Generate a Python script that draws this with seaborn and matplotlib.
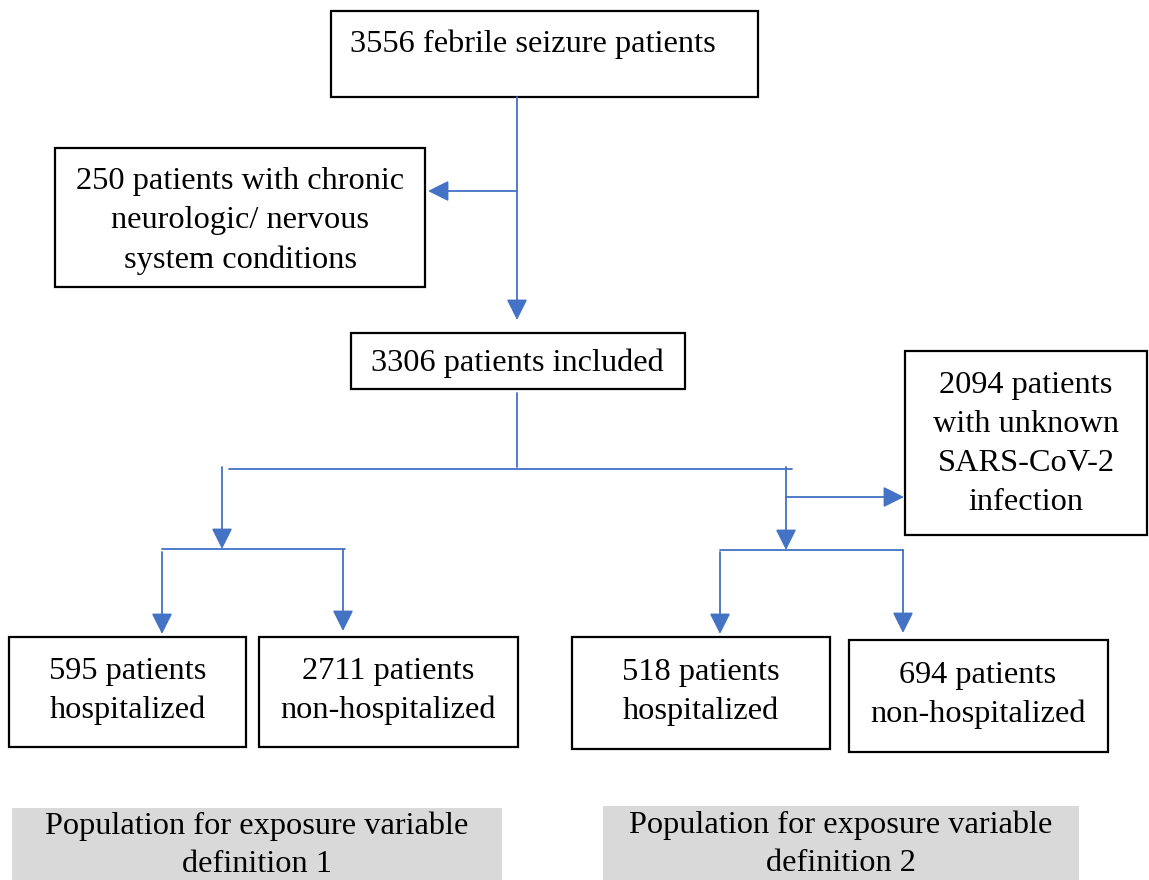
import matplotlib
matplotlib.use("Agg")
import matplotlib.pyplot as plt
import seaborn as sns
from matplotlib.patches import Rectangle

sns.set_theme(style="white")
plt.rcParams['font.family'] = ['Liberation Serif', 'DejaVu Serif']

# counts in the flow
total = 3556
excluded = 250
included = 3306
unknown = 2094
def1_hosp, def1_nonhosp = 595, 2711
def2_hosp, def2_nonhosp = 518, 694

labels = [
    f"{total} febrile seizure patients",
    f"{excluded} patients with chronic\nneurologic/ nervous\nsystem conditions",
    f"{included} patients included",
    f"{unknown} patients\nwith unknown\nSARS-CoV-2\ninfection",
    f"{def1_hosp} patients\nhospitalized",
    f"{def1_nonhosp} patients\nnon-hospitalized",
    f"{def2_hosp} patients\nhospitalized",
    f"{def2_nonhosp} patients\nnon-hospitalized",
]
footer_labels = [
    "Population for exposure variable\ndefinition 1",
    "Population for exposure variable\ndefinition 2",
]

# layout in pixels (x0, y0, x1, y1) and text anchor
boxes = [
    (331, 11, 758, 97), (55, 148, 425, 287), (351, 333, 685, 389),
    (905, 351, 1147, 535), (9, 637, 246, 747), (259, 637, 518, 747),
    (572, 637, 830, 749), (849, 640, 1108, 752),
]
text_pos = [
    (533, 44), (240, 221), (517, 363), (1026, 444),
    (128, 691), (388, 691), (701, 692), (978, 695),
]
footer_boxes = [(12, 808, 502, 885), (603, 806, 1079, 885)]
footer_pos = [(257, 845), (841, 844)]

blue = "#4472C4"
W, H = 1149, 880

fig = plt.figure(figsize=(W / 100, H / 100), dpi=100)
ax = fig.add_axes([0, 0, 1, 1])
ax.set_xlim(0, W)
ax.set_ylim(H, 0)
ax.axis("off")

for (x0, y0, x1, y1), (tx, ty), lab in zip(boxes, text_pos, labels):
    ax.add_patch(Rectangle((x0, y0), x1 - x0, y1 - y0, fill=False,
                           edgecolor="black", lw=1.6))
    ax.text(tx, ty, lab, ha="center", va="center", fontsize=23.3,
            linespacing=1.45, color="black")

for (x0, y0, x1, y1), (tx, ty), lab in zip(footer_boxes, footer_pos, footer_labels):
    ax.add_patch(Rectangle((x0, y0), x1 - x0, y1 - y0, facecolor="#D9D9D9",
                           edgecolor="none"))
    ax.text(tx, ty, lab, ha="center", va="center", fontsize=23.3,
            linespacing=1.42, color="black")

# plain connector lines
lines = [
    ((517, 393), (517, 467)),
    ((229, 469), (792, 469)),
    ((162, 549), (345, 549)),
    ((720, 550), (903, 550)),
]
for (xa, ya), (xb, yb) in lines:
    ax.plot([xa, xb], [ya, yb], color=blue, lw=1.3)

# arrows: start -> tip
arrows = [
    ((517, 97), (517, 320)),
    ((517, 191), (428, 191)),
    ((222, 467), (222, 549)),
    ((162, 552), (162, 634)),
    ((343, 549), (343, 631)),
    ((786, 467), (786, 550)),
    ((786, 497), (904, 497)),
    ((720, 552), (720, 634)),
    ((903, 550), (903, 633)),
]
for start, tip in arrows:
    ax.annotate("", xy=tip, xytext=start,
                arrowprops=dict(arrowstyle="-|>,head_length=0.9,head_width=0.45",
                                color=blue, lw=1.3, mutation_scale=14,
                                shrinkA=0, shrinkB=0))

fig.savefig("out.png", dpi=100)
